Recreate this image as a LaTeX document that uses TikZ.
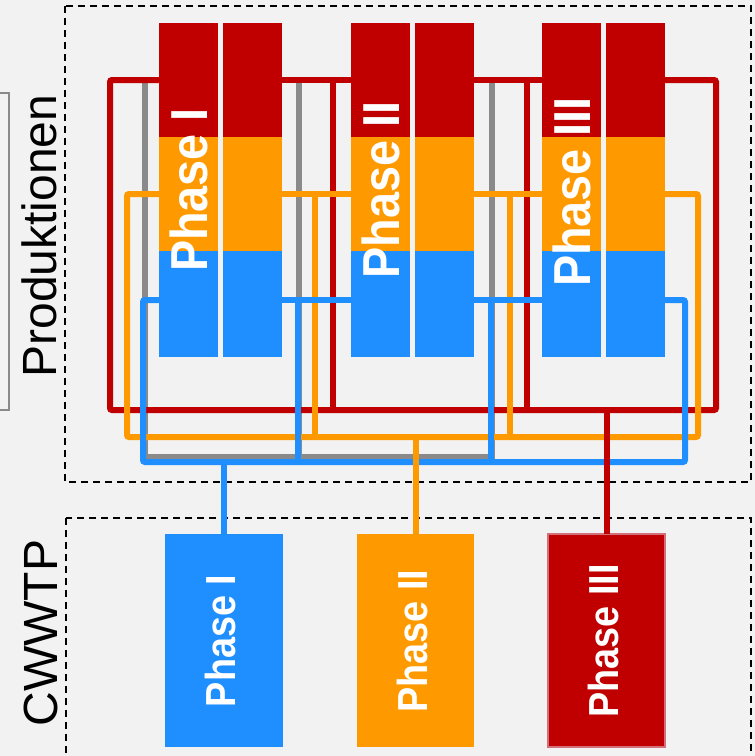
\documentclass[tikz,border=0pt]{standalone}
\usepackage{fontspec}
\setmainfont{Liberation Sans}
\newfontfamily\phasefont[FakeStretch=0.9]{Liberation Sans}
\usepackage{tikz}

\definecolor{phred}{HTML}{C00000}
\definecolor{phredrim}{HTML}{D4707A}
\definecolor{phorange}{HTML}{FF9900}
\definecolor{phblue}{HTML}{1F8FFF}
\definecolor{bggray}{HTML}{F2F2F2}
\definecolor{wiregray}{HTML}{8A8A8A}

\tikzset{
	sect/.style={draw=none, minimum width=59pt, inner sep=0pt, outer sep=0pt},
	redsect/.style={sect, fill=phred, minimum height=114pt},
	orgsect/.style={sect, fill=phorange, minimum height=114pt},
	blusect/.style={sect, fill=phblue, minimum height=106pt},
	cwbox/.style={minimum width=117pt, minimum height=213pt, inner sep=0pt, outer sep=0pt},
	bigphase/.style={text=white, rotate=90, inner sep=0pt, font=\phasefont\bfseries\fontsize{52}{52}\selectfont},
	smallphase/.style={text=white, rotate=90, inner sep=0pt, font=\phasefont\bfseries\fontsize{42}{42}\selectfont},
	sidelabel/.style={rotate=90, inner sep=0pt, font=\fontsize{48}{48}\selectfont},
	dashbox/.style={draw=black, line width=2.2pt, dash pattern=on 7pt off 5pt},
	wire/.style={line width=6pt, rounded corners=2pt},
	redwire/.style={wire, draw=phred},
	orgwire/.style={wire, draw=phorange},
	bluwire/.style={wire, draw=phblue},
	graywire/.style={line width=5.5pt, draw=wiregray}
}

\begin{document}
\begin{tikzpicture}[x=1pt, y=-1pt]
	
	\useasboundingbox (0,0) rectangle (755,756);
	\fill[bggray] (0,0) rectangle (755,756);
	
	% groups
	\draw[dashbox] (65,6) rectangle (751,482);
	\draw[dashbox] (66,518) rectangle (751,790);
	\draw[draw=wiregray, line width=1.5pt] (-20,93) rectangle (9,410);
	
	\node[sidelabel] (prodlabel) at (39.5,236) {Produktionen};
	\node[sidelabel] (cwlabel) at (41,633) {CWWTP};
	
	% gray lines behind
	\coordinate (g1top) at (145,80);
	\coordinate (g1bot) at (145,457);
	\coordinate (g2top) at (299,80);
	\coordinate (g2bot) at (299,457);
	\coordinate (g3top) at (492,80);
	\coordinate (g3bot) at (492,457);
	\draw[graywire] (g1top) -- (g1bot) -- (g3bot) -- (g3top);
	\draw[graywire] (g2top) -- (g2bot);
	
	% Produktionen, phase I
	\node[redsect] (p1Lred) at (188.5,80)  {};
	\node[orgsect] (p1Lorg) at (188.5,194) {};
	\node[blusect] (p1Lblu) at (188.5,304) {};
	\node[redsect] (p1Rred) at (252.5,80)  {};
	\node[orgsect] (p1Rorg) at (252.5,194) {};
	\node[blusect] (p1Rblu) at (252.5,304) {};
	\node[bigphase] (p1text) at (188.5,190) {Phase I};
	
	% Produktionen, phase II
	\node[redsect] (p2Lred) at (380.5,80)  {};
	\node[orgsect] (p2Lorg) at (380.5,194) {};
	\node[blusect] (p2Lblu) at (380.5,304) {};
	\node[redsect] (p2Rred) at (444.5,80)  {};
	\node[orgsect] (p2Rorg) at (444.5,194) {};
	\node[blusect] (p2Rblu) at (444.5,304) {};
	\node[bigphase] (p2text) at (380.5,190) {Phase II};
	
	% Produktionen, phase III
	\node[redsect] (p3Lred) at (571.5,80)  {};
	\node[orgsect] (p3Lorg) at (571.5,194) {};
	\node[blusect] (p3Lblu) at (571.5,304) {};
	\node[redsect] (p3Rred) at (635.5,80)  {};
	\node[orgsect] (p3Rorg) at (635.5,194) {};
	\node[blusect] (p3Rblu) at (635.5,304) {};
	\node[bigphase] (p3text) at (571.5,192) {Phase III};
	
	% CWWTP
	\node[cwbox, fill=phblue, minimum width=118pt] (cw1) at (224,640.5) {};
	\node[cwbox, fill=phorange] (cw2) at (415.5,640.5) {};
	\node[cwbox, fill=phred, draw=phredrim, line width=1.5pt] (cw3) at (606.5,640.5) {};
	\node[smallphase] (cw1text) at (220.5,641) {Phase I};
	\node[smallphase] (cw2text) at (412,641) {Phase II};
	\node[smallphase] (cw3text) at (603,641) {Phase III};
	
	% red wiring
	\coordinate (redSW) at (110,410);
	\coordinate (redSE) at (716,410);
	\coordinate (redM1) at (333,410);
	\coordinate (redM2) at (527,410);
	\draw[redwire] (p1Lred.west) -| (redSW) -- (redSE) |- (p3Rred.east);
	\draw[redwire] (p1Rred.east) -- (p2Lred.west);
	\draw[redwire] (p2Rred.east) -- (p3Lred.west);
	\draw[redwire] (redM1 |- p1Rred.east) -- (redM1);
	\draw[redwire] (redM2 |- p2Rred.east) -- (redM2);
	
	% orange wiring
	\coordinate (orgSW) at (127,437);
	\coordinate (orgSE) at (698,437);
	\coordinate (orgM1) at (315,437);
	\coordinate (orgM2) at (510,437);
	\draw[orgwire] (p1Lorg.west) -| (orgSW) -- (orgSE) |- (p3Rorg.east);
	\draw[orgwire] (p1Rorg.east) -- (p2Lorg.west);
	\draw[orgwire] (p2Rorg.east) -- (p3Lorg.west);
	\draw[orgwire] (orgM1 |- p1Rorg.east) -- (orgM1);
	\draw[orgwire] (orgM2 |- p2Rorg.east) -- (orgM2);
	
	% blue wiring (a bit above the middle of the blue parts)
	\coordinate (blu1L) at ([yshift=4pt]p1Lblu.west);
	\coordinate (blu1R) at ([yshift=4pt]p1Rblu.east);
	\coordinate (blu2L) at ([yshift=4pt]p2Lblu.west);
	\coordinate (blu2R) at ([yshift=4pt]p2Rblu.east);
	\coordinate (blu3L) at ([yshift=4pt]p3Lblu.west);
	\coordinate (blu3R) at ([yshift=4pt]p3Rblu.east);
	\coordinate (bluSW) at (143,462);
	\coordinate (bluSE) at (685,462);
	\coordinate (bluM1) at (298,462);
	\coordinate (bluM2) at (491,462);
	\draw[bluwire] (blu1L) -| (bluSW) -- (bluSE) |- (blu3R);
	\draw[bluwire] (blu1R) -- (blu2L);
	\draw[bluwire] (blu2R) -- (blu3L);
	\draw[bluwire] (bluM1 |- blu1R) -- (bluM1);
	\draw[bluwire] (bluM2 |- blu2R) -- (bluM2);
	
	% to CWWTP
	\draw[bluwire] (cw1.north) -- (cw1.north |- bluSW);
	\draw[orgwire] (cw2.north) -- (cw2.north |- orgSW);
	\draw[redwire] (cw3.north) -- (cw3.north |- redSW);
	
\end{tikzpicture}
\end{document}
